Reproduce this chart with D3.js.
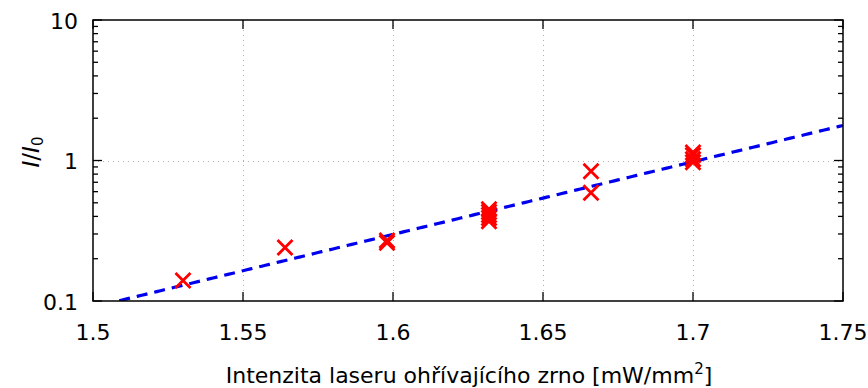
<!DOCTYPE html>
<html>
<head>
<meta charset="utf-8">
<script src="https://cdn.jsdelivr.net/npm/d3@7"></script>
<style>
  html, body { margin: 0; padding: 0; background: #fff; }
  svg text { font-family: "DejaVu Sans", sans-serif; fill: #000; }
</style>
</head>
<body>
<svg id="chart" width="868" height="388"></svg>
<script>
// Measured laser intensity (mW/mm^2) and relative signal I/I0
const intensity = [1.530, 1.564, 1.598, 1.598, 1.632, 1.632, 1.632, 1.632, 1.632, 1.666, 1.666, 1.700, 1.700, 1.700, 1.700];
const ratio     = [0.14, 0.24, 0.27, 0.26, 0.45, 0.43, 0.41, 0.39, 0.37, 0.84, 0.59, 1.14, 1.09, 1.02, 0.97];

// Exponential fit: log10(I/I0) = fitA + fitB * intensity
const fitA = -8.798;
const fitB = 5.17;

const xTicks = [1.5, 1.55, 1.6, 1.65, 1.7, 1.75];
const xTickLabels = ["1.5", "1.55", "1.6", "1.65", "1.7", "1.75"];
const yTicks = [0.1, 1, 10];
const yTickLabels = ["0.1", "1", "10"];
const xGrid = [1.55, 1.6, 1.65, 1.7];
const yGrid = [1];

const svg = d3.select("#chart");
const m = { left: 93, right: 843, top: 20, bottom: 301 };

const x = d3.scaleLinear().domain([1.5, 1.75]).range([m.left, m.right]);
const y = d3.scaleLog().domain([0.1, 10]).range([m.bottom, m.top]);

const clipId = "plotclip";
svg.append("defs").append("clipPath").attr("id", clipId)
  .append("rect").attr("x", m.left).attr("y", m.top)
  .attr("width", m.right - m.left).attr("height", m.bottom - m.top);

// grid
const grid = svg.append("g").attr("stroke", "#b0b0b0").attr("stroke-width", 1)
  .attr("stroke-dasharray", "1,4");
grid.selectAll("line.gx").data(xGrid).join("line")
  .attr("x1", d => Math.round(x(d)) + 0.5).attr("x2", d => Math.round(x(d)) + 0.5)
  .attr("y1", m.top).attr("y2", m.bottom);
grid.selectAll("line.gy").data(yGrid).join("line")
  .attr("y1", d => Math.round(y(d)) + 0.5).attr("y2", d => Math.round(y(d)) + 0.5)
  .attr("x1", m.left).attr("x2", m.right);

// inward ticks on all four sides
const tickG = svg.append("g").attr("stroke", "#000").attr("stroke-width", 1.3);
const majorLen = 9, minorLen = 5;
xTicks.forEach(v => {
  const px = x(v);
  tickG.append("line").attr("x1", px).attr("x2", px).attr("y1", m.bottom).attr("y2", m.bottom - majorLen);
  tickG.append("line").attr("x1", px).attr("x2", px).attr("y1", m.top).attr("y2", m.top + majorLen);
});
const yMinor = [];
[0.1, 1].forEach(dec => { for (let k = 2; k <= 9; k++) yMinor.push(dec * k); });
yTicks.forEach(v => {
  const py = y(v);
  tickG.append("line").attr("x1", m.left).attr("x2", m.left + majorLen).attr("y1", py).attr("y2", py);
  tickG.append("line").attr("x1", m.right).attr("x2", m.right - majorLen).attr("y1", py).attr("y2", py);
});
yMinor.forEach(v => {
  const py = y(v);
  tickG.append("line").attr("x1", m.left).attr("x2", m.left + minorLen).attr("y1", py).attr("y2", py);
  tickG.append("line").attr("x1", m.right).attr("x2", m.right - minorLen).attr("y1", py).attr("y2", py);
});

// tick labels
svg.append("g").selectAll("text").data(xTicks).join("text")
  .attr("x", d => x(d)).attr("y", 340)
  .attr("text-anchor", "middle").attr("font-size", 22)
  .text((d, i) => xTickLabels[i]);
svg.append("g").selectAll("text").data(yTicks).join("text")
  .attr("x", 78).attr("y", d => y(d) + 8.5)
  .attr("text-anchor", "end").attr("font-size", 22)
  .text((d, i) => yTickLabels[i]);

// fit line
const fitXs = d3.range(0, 201).map(i => 1.5 + i * 0.25 / 200);
const line = d3.line().x(d => x(d)).y(d => y(Math.pow(10, fitA + fitB * d)));
svg.append("path").datum(fitXs.filter(d => fitA + fitB * d >= -1.0001))
  .attr("clip-path", `url(#${clipId})`)
  .attr("d", line).attr("fill", "none")
  .attr("stroke", "#0000ee").attr("stroke-width", 3.2)
  .attr("stroke-dasharray", "11,7");

// data markers
const s = 7.5;
const marks = svg.append("g").attr("stroke", "#ff0000").attr("stroke-width", 2.8);
intensity.forEach((v, i) => {
  const cx = x(v), cy = y(ratio[i]);
  marks.append("path").attr("d", `M${cx - s},${cy - s}L${cx + s},${cy + s}M${cx - s},${cy + s}L${cx + s},${cy - s}`);
});

// frame
svg.append("rect").attr("x", m.left).attr("y", m.top)
  .attr("width", m.right - m.left).attr("height", m.bottom - m.top)
  .attr("fill", "none").attr("stroke", "#000").attr("stroke-width", 1.5);

// axis titles
const xt = svg.append("text").attr("x", (m.left + m.right) / 2 + 1).attr("y", 383)
  .attr("text-anchor", "middle").attr("font-size", 22);
xt.append("tspan").text("Intenzita laseru ohřívajícího zrno [mW/mm");
xt.append("tspan").attr("font-size", 15).attr("dy", -9).text("2");
xt.append("tspan").attr("dy", 9).text("]");

const yt = svg.append("text").attr("transform", "translate(39,152) rotate(-90)")
  .attr("text-anchor", "middle").attr("font-size", 23);
yt.append("tspan").attr("font-style", "italic").text("I");
yt.append("tspan").text("/");
yt.append("tspan").attr("font-style", "italic").text("I");
yt.append("tspan").attr("font-size", 15).attr("dy", 4).text("0");
</script>
</body>
</html>
